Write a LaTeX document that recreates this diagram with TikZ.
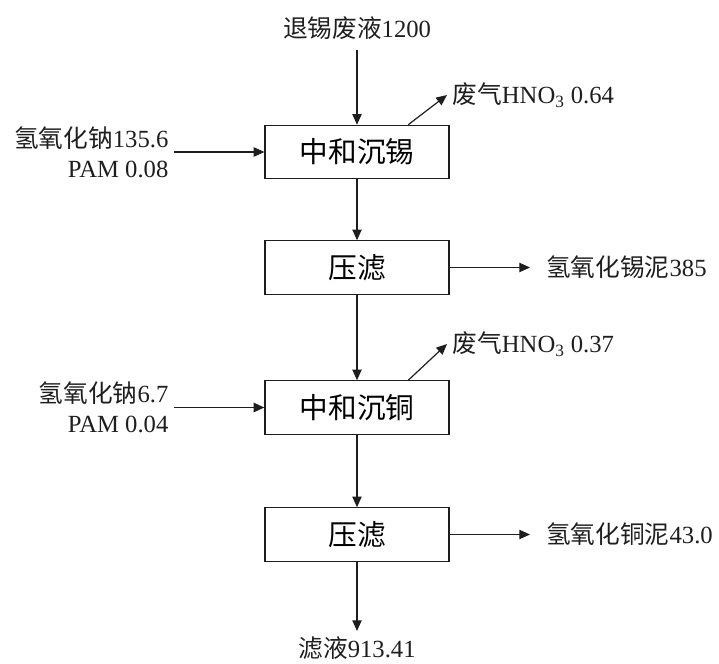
\documentclass[tikz,border=0pt]{standalone}
\usepackage{fontspec}
\setmainfont{Liberation Serif}
\newfontfamily\cjk{Noto Sans CJK SC}
\usetikzlibrary{arrows.meta,positioning}
\definecolor{ink}{RGB}{30,30,30}
\tikzset{
  proc/.style={draw=ink,line width=0.9pt,minimum width=138pt,minimum height=40pt,
    inner sep=0pt,font=\fontsize{21.5}{26}\selectfont},
  lab/.style={font=\fontsize{18.5}{22.5}\selectfont,inner sep=4pt,text=ink},
  mud/.style={lab,anchor=west,inner xsep=12pt},
  arr/.style={-{Triangle[length=8pt,width=7pt]},line width=0.9pt,ink},
}
\newcommand{\zh}[1]{{\cjk #1}}

\begin{document}
\begin{tikzpicture}[x=0.75pt,y=-0.75pt]
\useasboundingbox (0,0) rectangle (719,664);
% process boxes
\node[proc] (snBox) at (357,152) {\zh{中和沉锡}};
\node[proc] (press1) at (357,267.5) {\zh{压滤}};
\node[proc] (cuBox) at (357,407.5) {\zh{中和沉铜}};
\node[proc] (press2) at (357,534.5) {\zh{压滤}};
% streams in and out
\node[lab,inner ysep=8pt] (feed) at (357,28) {\zh{退锡废液}1200};
\node[lab,align=right,anchor=east] (naoh1) at (174,152) {\zh{氢氧化钠}135.6\\PAM 0.08};
\node[lab,align=right,anchor=east] (naoh2) at (174,407.5) {\zh{氢氧化钠}6.7\\PAM 0.04};
\node[lab,anchor=west] (gas1) at (447,95) {\zh{废气}HNO\textsubscript{3} 0.64};
\node[lab,anchor=west] (gas2) at (447,344) {\zh{废气}HNO\textsubscript{3} 0.37};
\node[mud] (snMud) at (530,267.5) {\zh{氢氧化锡泥}385};
\node[mud] (cuMud) at (530,534.5) {\zh{氢氧化铜泥}43.0};
\node[lab] (filt) at (357,648) {\zh{滤液}913.41};
% connectors
\draw[arr] (feed) -- (snBox);
\draw[arr] (naoh1) -- (snBox);
\draw[arr] ([xshift=-31pt]snBox.north east) -- (gas1.west);
\draw[arr] (snBox) -- (press1);
\draw[arr] (press1) -- (snMud);
\draw[arr] (press1) -- (cuBox);
\draw[arr] (naoh2) -- (cuBox);
\draw[arr] ([xshift=-31pt]cuBox.north east) -- (gas2.west);
\draw[arr] (cuBox) -- (press2);
\draw[arr] (press2) -- (cuMud);
\draw[arr] (press2) -- (filt);
\end{tikzpicture}
\end{document}
